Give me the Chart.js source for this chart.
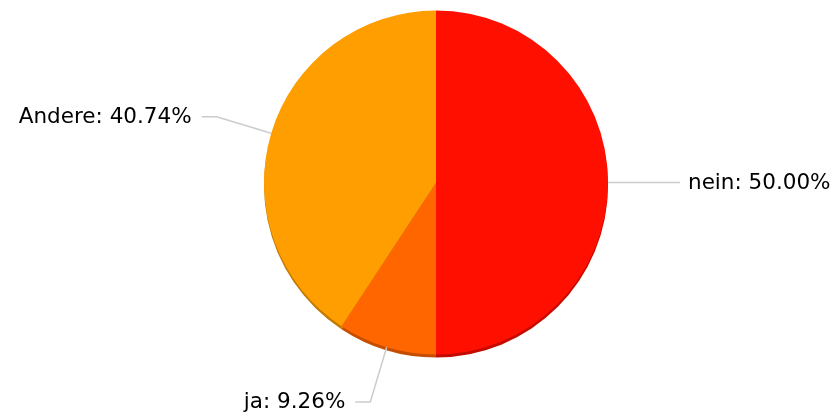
<!DOCTYPE html>
<html>
<head>
<meta charset="utf-8">
<script src="https://cdn.jsdelivr.net/npm/chart.js@4"></script>
<style>
  html, body { margin: 0; padding: 0; background: #fff; }
  #wrap { width: 835px; height: 417px; }
</style>
</head>
<body>
<div id="wrap"><canvas id="pie"></canvas></div>
<script>
// data
const labels = ['nein', 'ja', 'Andere'];
const values = [50.00, 9.26, 40.74];
const colors = ['#FF0F00', '#FF6600', '#FF9E01'];
const shadeColors = ['#C40B00', '#C44E00', '#C47A01'];

const FONT = '21.5px "DejaVu Sans", Verdana, sans-serif';

// darker copy of each slice a few px lower -> the bottom rim
const shadowPlugin = {
  id: 'rim',
  beforeDatasetsDraw(chart) {
    const ctx = chart.ctx;
    chart.getDatasetMeta(0).data.forEach((arc, i) => {
      const p = arc.getProps(['x', 'y', 'startAngle', 'endAngle', 'outerRadius'], true);
      ctx.save();
      ctx.fillStyle = shadeColors[i];
      ctx.beginPath();
      ctx.moveTo(p.x, p.y + 3);
      ctx.arc(p.x, p.y + 3, p.outerRadius, p.startAngle, p.endAngle);
      ctx.closePath();
      ctx.fill();
      ctx.restore();
    });
  }
};

// leader lines + labels
const labelPlugin = {
  id: 'pieLabels',
  afterDatasetsDraw(chart) {
    const ctx = chart.ctx;
    const total = values.reduce((a, b) => a + b, 0);
    chart.getDatasetMeta(0).data.forEach((arc, i) => {
      const p = arc.getProps(['x', 'y', 'startAngle', 'endAngle', 'outerRadius'], true);
      const mid = (p.startAngle + p.endAngle) / 2;
      const r1 = p.outerRadius;
      const r2 = p.outerRadius + 57;
      const x1 = p.x + Math.cos(mid) * r1, y1 = p.y + Math.sin(mid) * r1;
      const x2 = p.x + Math.cos(mid) * r2, y2 = p.y + Math.sin(mid) * r2;
      const right = Math.cos(mid) >= 0;
      const x3 = x2 + (right ? 15 : -15);
      ctx.save();
      ctx.strokeStyle = '#cccccc';
      ctx.lineWidth = 1.5;
      ctx.beginPath();
      ctx.moveTo(x1, y1);
      ctx.lineTo(x2, y2);
      ctx.lineTo(x3, y2);
      ctx.stroke();
      ctx.font = FONT;
      ctx.fillStyle = '#000';
      ctx.textBaseline = 'middle';
      ctx.textAlign = right ? 'left' : 'right';
      const txt = labels[i] + ': ' + (values[i] / total * 100).toFixed(2) + '%';
      ctx.fillText(txt, x3 + (right ? 8 : -10), y2 + 1);
      ctx.restore();
    });
  }
};

const ctx = document.getElementById('pie').getContext('2d');
const pieChart = new Chart(ctx, {
  type: 'pie',
  data: {
    labels,
    datasets: [{
      data: values,
      backgroundColor: colors,
      borderWidth: 0
    }]
  },
  options: {
    responsive: true,
    maintainAspectRatio: false,
    animation: false,
    layout: { padding: { left: 100, right: 63, top: 10.5, bottom: 62.5 } },
    plugins: {
      legend: { display: false },
      tooltip: { enabled: false }
    }
  },
  plugins: [shadowPlugin, labelPlugin]
});
</script>
</body>
</html>
